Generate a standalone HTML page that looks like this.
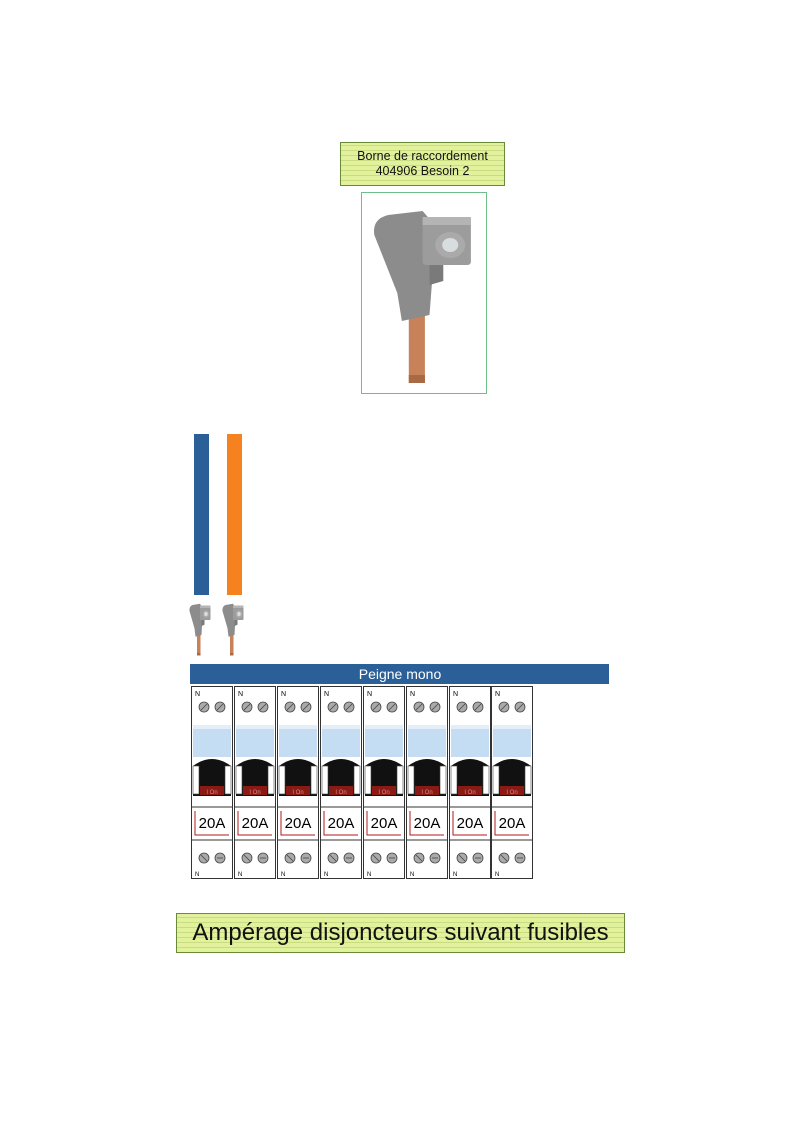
<!DOCTYPE html>
<html><head><meta charset="utf-8"><style>
body{margin:0;background:#fff;width:800px;height:1131px;position:relative;overflow:hidden;font-family:"Liberation Sans",sans-serif}
.lab{position:absolute;border:1px solid #6a8a3a;background:#e2f29c;background-image:repeating-linear-gradient(0deg,transparent 0 4px,rgba(150,180,80,.35) 4px 5px);text-align:center;color:#111}
</style></head><body>
<div class="lab" style="left:340px;top:142px;width:165px;height:44px;font-size:12.5px;line-height:15px;padding-top:6px;box-sizing:border-box">Borne de raccordement<br>404906 Besoin 2</div>
<div style="position:absolute;left:361px;top:192px;width:124px;height:200px;border:1px solid #6fbf8a"></div>
<svg style="position:absolute;left:0;top:0" width="800" height="1131">
<defs>
<g id="conn">
<rect x="32" y="90" width="14" height="88" fill="#c8825a"/>
<rect x="32" y="170" width="14" height="8" fill="#a86a45"/>
<path d="M2 30 Q0 14 14 10 L44 6 L50 14 L52 80 L50 110 L26 116 L22 88 Z" fill="#8c8c8c"/>
<rect x="44" y="12" width="42" height="48" rx="3" fill="#9c9c9c"/>
<rect x="44" y="12" width="42" height="8" fill="#b4b4b4"/>
<circle cx="68" cy="40" r="13" fill="#aaaaaa"/>
<circle cx="68" cy="40" r="7" fill="#d8dde0"/>
<path d="M50 60 L62 60 L62 76 L50 80 Z" fill="#7a7a7a"/>
</g>
<g id="mod">
<rect x="0.5" y="0.5" width="41" height="192" fill="#fff" stroke="#333"/>
<circle cx="13" cy="21" r="5" fill="#aaa" stroke="#444" stroke-width=".8"/><circle cx="29" cy="21" r="5" fill="#aaa" stroke="#444" stroke-width=".8"/>
<line x1="10" y1="24" x2="16" y2="18" stroke="#444" stroke-width=".8"/><line x1="26" y1="24" x2="32" y2="18" stroke="#444" stroke-width=".8"/>
<rect x="2" y="39" width="38" height="32" fill="#c4ddf3"/>
<rect x="2" y="39" width="38" height="4" fill="#e4eef8"/>
<path d="M2 80 Q21 66 40 80 L40 110 L2 110 Z" fill="#111"/>
<rect x="2" y="80" width="6" height="28" fill="#fff" stroke="#444" stroke-width=".6"/>
<rect x="34" y="80" width="6" height="28" fill="#fff" stroke="#444" stroke-width=".6"/>
<rect x="9" y="100" width="24" height="9" fill="#8a1a14"/>
<line x1="0.5" y1="121" x2="41.5" y2="121" stroke="#333"/>
<path d="M4 125 L4 149 L38 149" stroke="#b21a1a" fill="none" stroke-width="1"/>
<line x1="0.5" y1="154" x2="41.5" y2="154" stroke="#333"/>
<circle cx="13" cy="172" r="5" fill="#aaa" stroke="#444" stroke-width=".8"/><circle cx="29" cy="172" r="5" fill="#aaa" stroke="#444" stroke-width=".8"/>
<line x1="10" y1="169" x2="16" y2="175" stroke="#444" stroke-width=".8"/><line x1="26" y1="172" x2="32" y2="172" stroke="#444" stroke-width=".8"/>
</g>
</defs>
<use href="#conn" transform="translate(372,205) scale(1.15,1.0)"/>
<rect x="194" y="434" width="15" height="161" fill="#2a5f98"/>
<rect x="227" y="434" width="15" height="161" fill="#f6821f"/>
<use href="#conn" transform="translate(189,602) scale(0.25,0.3)"/>
<use href="#conn" transform="translate(222,602) scale(0.25,0.3)"/>
<rect x="190" y="664" width="419" height="20" fill="#2a5f98"/>
<text x="400" y="679" fill="#fff" font-size="14" text-anchor="middle" font-family="Liberation Sans">Peigne mono</text>
<g font-family="Liberation Sans">
<g transform="translate(191,686)"><use href="#mod"/><text x="4" y="10" font-size="7">N</text><text x="21" y="142" font-size="15" text-anchor="middle">20A</text><text x="21" y="108" font-size="6" fill="#d88" text-anchor="middle">I On</text><text x="4" y="190" font-size="6">N</text></g>
<g transform="translate(234,686)"><use href="#mod"/><text x="4" y="10" font-size="7">N</text><text x="21" y="142" font-size="15" text-anchor="middle">20A</text><text x="21" y="108" font-size="6" fill="#d88" text-anchor="middle">I On</text><text x="4" y="190" font-size="6">N</text></g>
<g transform="translate(277,686)"><use href="#mod"/><text x="4" y="10" font-size="7">N</text><text x="21" y="142" font-size="15" text-anchor="middle">20A</text><text x="21" y="108" font-size="6" fill="#d88" text-anchor="middle">I On</text><text x="4" y="190" font-size="6">N</text></g>
<g transform="translate(320,686)"><use href="#mod"/><text x="4" y="10" font-size="7">N</text><text x="21" y="142" font-size="15" text-anchor="middle">20A</text><text x="21" y="108" font-size="6" fill="#d88" text-anchor="middle">I On</text><text x="4" y="190" font-size="6">N</text></g>
<g transform="translate(363,686)"><use href="#mod"/><text x="4" y="10" font-size="7">N</text><text x="21" y="142" font-size="15" text-anchor="middle">20A</text><text x="21" y="108" font-size="6" fill="#d88" text-anchor="middle">I On</text><text x="4" y="190" font-size="6">N</text></g>
<g transform="translate(406,686)"><use href="#mod"/><text x="4" y="10" font-size="7">N</text><text x="21" y="142" font-size="15" text-anchor="middle">20A</text><text x="21" y="108" font-size="6" fill="#d88" text-anchor="middle">I On</text><text x="4" y="190" font-size="6">N</text></g>
<g transform="translate(449,686)"><use href="#mod"/><text x="4" y="10" font-size="7">N</text><text x="21" y="142" font-size="15" text-anchor="middle">20A</text><text x="21" y="108" font-size="6" fill="#d88" text-anchor="middle">I On</text><text x="4" y="190" font-size="6">N</text></g>
<g transform="translate(491,686)"><use href="#mod"/><text x="4" y="10" font-size="7">N</text><text x="21" y="142" font-size="15" text-anchor="middle">20A</text><text x="21" y="108" font-size="6" fill="#d88" text-anchor="middle">I On</text><text x="4" y="190" font-size="6">N</text></g>
</g>
</svg>
<div class="lab" style="left:176px;top:913px;width:447px;height:38px;font-size:24px;line-height:38px">Ampérage disjoncteurs suivant fusibles</div>
</body></html>
